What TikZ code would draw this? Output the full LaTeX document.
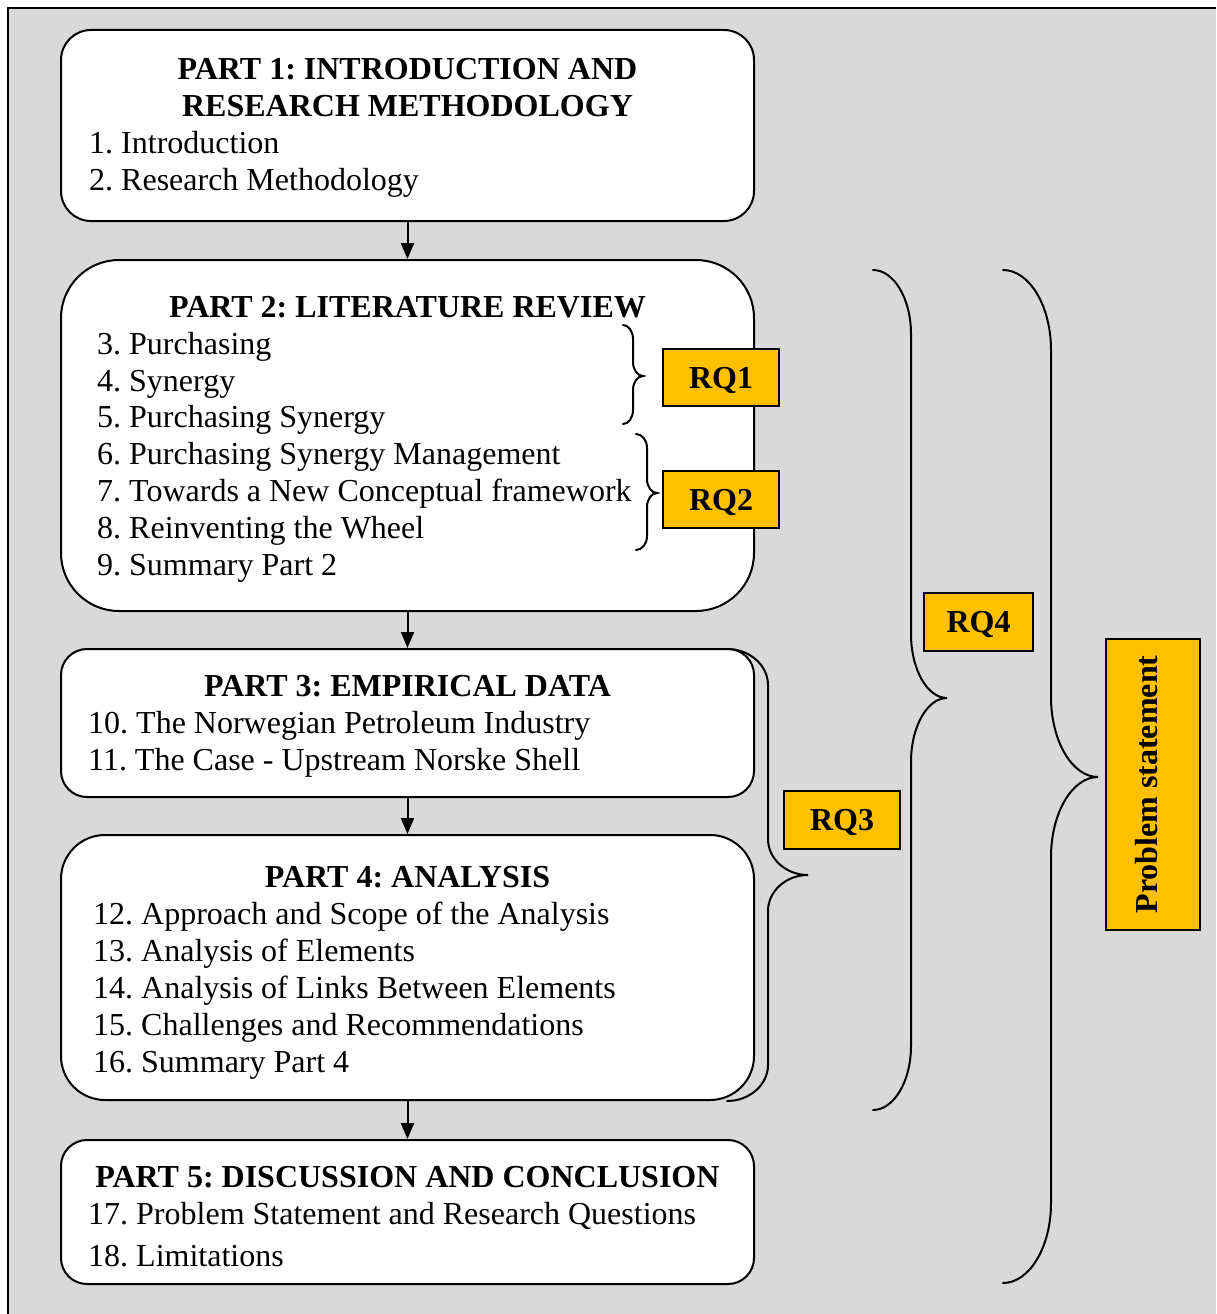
\documentclass[tikz,border=0pt]{standalone}
\usepackage{fontspec}
\setmainfont{Liberation Serif}
\usetikzlibrary{arrows.meta}
\definecolor{bggray}{HTML}{D9D9D9}
\definecolor{rqgold}{HTML}{FFC000}
\frenchspacing
\newcommand\qbrace[8]{%
 \pgfmathsetmacro\qa{#1+0.55*(#3-#1)}%
 \pgfmathsetmacro\qb{#2+#7}%
 \pgfmathsetmacro\qc{#2+0.45*#7}%
 \pgfmathsetmacro\qd{#5-#8}%
 \pgfmathsetmacro\qe{#5-0.45*#8}%
 \pgfmathsetmacro\qf{#3+0.45*(#4-#3)}%
 \pgfmathsetmacro\qg{#5+#8}%
 \pgfmathsetmacro\qh{#5+0.45*#8}%
 \pgfmathsetmacro\qi{#6-#7}%
 \pgfmathsetmacro\qj{#6-0.45*#7}%
 \draw[bracestyle] (#1,#2) .. controls (\qa,#2) and (#3,\qc) .. (#3,\qb) -- (#3,\qd)
   .. controls (#3,\qe) and (\qf,#5) .. (#4,#5)
   .. controls (\qf,#5) and (#3,\qh) .. (#3,\qg) -- (#3,\qi)
   .. controls (#3,\qj) and (\qa,#6) .. (#1,#6);
}
\begin{document}
\begin{tikzpicture}[x=1pt,y=-1pt,
  partbox/.style={draw=black, fill=white, line width=2pt, inner sep=0pt, minimum width=693pt},
  rqbox/.style={draw=black, fill=rqgold, line width=2pt, inner sep=0pt,
     text height=21pt, text depth=0pt,
     font=\fontsize{32}{37}\selectfont\bfseries},
  titletext/.style={anchor=base, inner sep=0pt, font=\fontsize{32}{37}\selectfont\bfseries},
  itemtext/.style={anchor=base west, inner sep=0pt, font=\fontsize{32}{37}\selectfont},
  flowarrow/.style={line width=2pt, -{Triangle[length=16pt,width=13pt]}},
  bracestyle/.style={line width=2pt, line cap=round}
]
\useasboundingbox (0,0) rectangle (1216,1314);
\fill[bggray] (8,8) rectangle (1216,1314);
\draw[line width=2.5pt] (8,1314) -- (8,8) -- (1216,8);

% Part boxes
\node[partbox, rounded corners=30pt, minimum height=191pt] (p1) at (407.5,125.5) {};
\node[partbox, rounded corners=58pt, minimum height=351pt] (p2) at (407.5,435.5) {};
\node[partbox, rounded corners=26pt, minimum height=148pt] (p3) at (407.5,723) {};
\node[partbox, rounded corners=44pt, minimum height=265pt] (p4) at (407.5,967.5) {};
\node[partbox, rounded corners=26pt, minimum height=144pt] (p5) at (407.5,1212) {};

% Arrows
\draw[flowarrow] (p1.south) -- (p2.north);
\draw[flowarrow] (p2.south) -- (p3.north);
\draw[flowarrow] (p3.south) -- (p4.north);
\draw[flowarrow] (p4.south) -- (p5.north);

% Part 1 texts
\node[titletext] (t1a) at (407.5,79) {PART 1: INTRODUCTION AND};
\node[titletext] (t1b) at (407.5,116) {RESEARCH METHODOLOGY};
\node[itemtext] (i1) at (89,153) {1. Introduction};
\node[itemtext] (i2) at (89,190) {2. Research Methodology};

% Part 2 texts
\node[titletext] (t2) at (407.5,317) {PART 2: LITERATURE REVIEW};
\node[itemtext] (i3) at (97,354) {3. Purchasing};
\node[itemtext] (i4) at (97,391) {4. Synergy};
\node[itemtext] (i5) at (97,427) {5. Purchasing Synergy};
\node[itemtext] (i6) at (97,464) {6. Purchasing Synergy Management};
\node[itemtext] (i7) at (97,501) {7. Towards a New Conceptual framework};
\node[itemtext] (i8) at (97,538) {8. Reinventing the Wheel};
\node[itemtext] (i9) at (97,575) {9. Summary Part 2};

% Part 3 texts
\node[titletext] (t3) at (407.5,696) {PART 3: EMPIRICAL DATA};
\node[itemtext] (i10) at (88,733) {10. The Norwegian Petroleum Industry};
\node[itemtext] (i11) at (88,770) {11. The Case - Upstream Norske Shell};

% Part 4 texts
\node[titletext] (t4) at (407.5,887) {PART 4: ANALYSIS};
\node[itemtext] (i12) at (93,924) {12. Approach and Scope of the Analysis};
\node[itemtext] (i13) at (93,961) {13. Analysis of Elements};
\node[itemtext] (i14) at (93,998) {14. Analysis of Links Between Elements};
\node[itemtext] (i15) at (93,1035) {15. Challenges and Recommendations};
\node[itemtext] (i16) at (93,1072) {16. Summary Part 4};

% Part 5 texts
\node[titletext] (t5) at (407.5,1187) {PART 5: DISCUSSION AND CONCLUSION};
\node[itemtext] (i17) at (88,1224) {17. Problem Statement and Research Questions};
\node[itemtext] (i18) at (88,1266) {18. Limitations};

% Braces
\qbrace{623}{325}{633}{643}{376}{424}{14}{14}
\qbrace{636}{434}{647}{657}{493}{550}{14}{14}
\qbrace{727}{649}{768}{808}{875}{1101}{36}{36}
\qbrace{873}{270}{911}{947}{698}{1110}{64}{64}
\qbrace{1003}{270}{1051}{1098}{777}{1283}{80}{80}

% RQ boxes
\node[rqbox, minimum width=116pt, minimum height=57pt] (rq1) at (721,377.5) {RQ1};
\node[rqbox, minimum width=116pt, minimum height=57pt] (rq2) at (721,499.5) {RQ2};
\node[rqbox, minimum width=116pt, minimum height=58pt] (rq3) at (842,820) {RQ3};
\node[rqbox, minimum width=109pt, minimum height=58pt] (rq4) at (978.5,622) {RQ4};
\node[rqbox, text depth=12pt, minimum width=291pt, minimum height=94pt, rotate=90] (ps) at (1153,784.5) {Problem statement};
\end{tikzpicture}
\end{document}
